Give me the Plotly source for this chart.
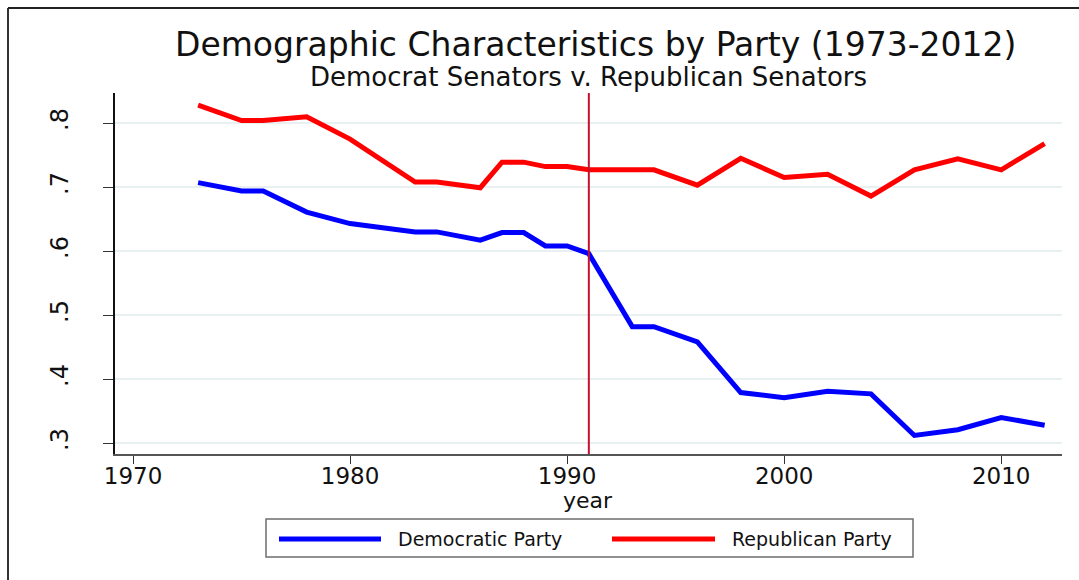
import plotly.graph_objects as go

# ---- data ----
years = [1973, 1975, 1976, 1978, 1980, 1983, 1984, 1986, 1987, 1988, 1989, 1990,
         1991, 1993, 1994, 1996, 1998, 2000, 2002, 2004, 2006, 2008, 2010, 2012]
democratic = [0.707, 0.694, 0.694, 0.661, 0.643, 0.630, 0.630, 0.617, 0.629, 0.629, 0.608, 0.608,
              0.596, 0.482, 0.482, 0.458, 0.379, 0.371, 0.381, 0.377, 0.312, 0.321, 0.340, 0.328]
republican = [0.828, 0.804, 0.804, 0.810, 0.775, 0.708, 0.708, 0.699, 0.739, 0.739, 0.732, 0.732,
              0.727, 0.727, 0.727, 0.703, 0.745, 0.715, 0.720, 0.686, 0.727, 0.744, 0.727, 0.768]
x_ticks = [1970, 1980, 1990, 2000, 2010]
y_ticks = [0.3, 0.4, 0.5, 0.6, 0.7, 0.8]
y_tick_labels = [".3", ".4", ".5", ".6", ".7", ".8"]
marker_year = 1991
series_names = ["Democratic Party", "Republican Party"]
title_text = "Demographic Characteristics by Party (1973-2012)"
subtitle_text = "Democrat Senators v. Republican Senators"

W, H = 1079, 580
L, R, T, B = 115, 1062, 93, 454
pw, ph = R - L, B - T


def px(x):
    return (x - L) / pw


def py(y):
    return (B - y) / ph


FONT = "DejaVu Sans"

fig = go.Figure()
fig.add_trace(go.Scatter(x=years, y=democratic, mode="lines", name=series_names[0],
                         line=dict(color="#0000ff", width=5), showlegend=False))
fig.add_trace(go.Scatter(x=years, y=republican, mode="lines", name=series_names[1],
                         line=dict(color="#ff0000", width=5), showlegend=False))

shapes = []
# vertical reference line
shapes.append(dict(type="line", xref="x", yref="paper", x0=marker_year, x1=marker_year,
                   y0=0, y1=1, line=dict(color="#c8102e", width=2), layer="above"))
# outer frame (left and top)
shapes.append(dict(type="line", xref="paper", yref="paper", x0=px(8), x1=px(8),
                   y0=py(8), y1=py(600), line=dict(color="#333333", width=2)))
shapes.append(dict(type="line", xref="paper", yref="paper", x0=px(8), x1=px(1100),
                   y0=py(8), y1=py(8), line=dict(color="#222222", width=2)))
# legend box
shapes.append(dict(type="rect", xref="paper", yref="paper", x0=px(266), x1=px(913),
                   y0=py(519), y1=py(557), line=dict(color="#6e6e6e", width=1.5),
                   fillcolor="white"))
shapes.append(dict(type="line", xref="paper", yref="paper", x0=px(279), x1=px(381),
                   y0=py(539), y1=py(539), line=dict(color="#0000ff", width=5)))
shapes.append(dict(type="line", xref="paper", yref="paper", x0=px(612), x1=px(715),
                   y0=py(539), y1=py(539), line=dict(color="#ff0000", width=5)))

annotations = [
    dict(text=title_text, xref="paper", yref="paper", x=px(595), y=py(45),
         xanchor="center", yanchor="middle", showarrow=False,
         font=dict(family=FONT, size=33, color="#111111")),
    dict(text=subtitle_text, xref="paper", yref="paper", x=px(588), y=py(77),
         xanchor="center", yanchor="middle", showarrow=False,
         font=dict(family=FONT, size=26, color="#111111")),
    dict(text="year", xref="paper", yref="paper", x=px(588), y=py(500),
         xanchor="center", yanchor="middle", showarrow=False,
         font=dict(family=FONT, size=22, color="#111111")),
    dict(text=series_names[0], xref="paper", yref="paper", x=px(396), y=py(539),
         xanchor="left", yanchor="middle", showarrow=False,
         font=dict(family=FONT, size=19, color="#111111")),
    dict(text=series_names[1], xref="paper", yref="paper", x=px(730), y=py(539),
         xanchor="left", yanchor="middle", showarrow=False,
         font=dict(family=FONT, size=19, color="#111111")),
]

fig.update_layout(
    width=W, height=H,
    margin=dict(l=L, r=W - R, t=T, b=H - B, pad=0),
    paper_bgcolor="white", plot_bgcolor="white",
    showlegend=False,
    shapes=shapes,
    annotations=annotations,
    xaxis=dict(range=[1969.17, 2012.8], tickvals=x_ticks, ticktext=[str(v) for v in x_ticks],
               showgrid=False, zeroline=False, showline=True, linecolor="#555555", linewidth=1.5,
               ticks="outside", ticklen=8, tickwidth=1.2, tickcolor="#333333",
               tickfont=dict(family=FONT, size=23, color="#111111"), ticklabelstandoff=-7),
    yaxis=dict(range=[0.283, 0.847], tickvals=y_ticks, ticktext=y_tick_labels,
               showgrid=True, gridcolor="#e9f0f2", gridwidth=1.5, zeroline=False,
               showline=True, linecolor="#111111", linewidth=1.5,
               ticks="outside", ticklen=10, tickwidth=1.2, tickcolor="#333333",
               tickangle=-90, tickfont=dict(family=FONT, size=24, color="#111111"),
               ticklabelstandoff=26),
)

fig.write_html("out.html")
